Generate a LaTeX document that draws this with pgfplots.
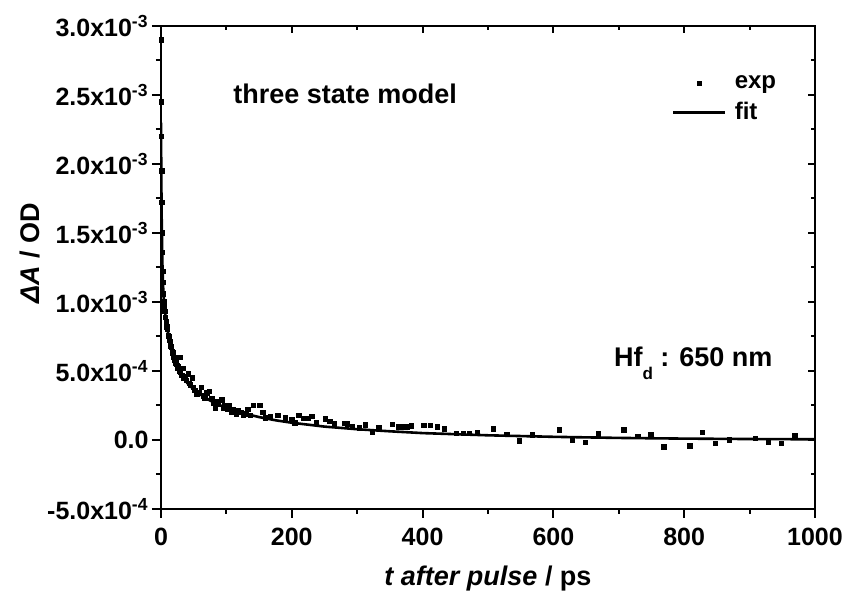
\documentclass[border=0pt]{standalone}
\usepackage{fontspec}
\setmainfont{Liberation Sans}
\usepackage{pgfplots}
\pgfplotsset{compat=1.18}
\pgfplotsset{
  explegend/.style={legend image code/.code={\draw[mark repeat=2,mark phase=2,##1] plot coordinates {(0pt,0pt) (13pt,0pt) (26pt,0pt)};}},
  fitlegend/.style={legend image code/.code={\draw[##1] (0pt,0pt) -- (26pt,0pt);}},
}
\pgfplotstableread{
t y
0.3 2.90e-3
0.6 2.45e-3
0.9 2.20e-3
1.2 1.95e-3
1.6 1.72e-3
2.0 1.50e-3
2.5 1.36e-3
3.0 1.22e-3
3.5 1.14e-3
4.0 1.06e-3
4.5 1.00e-3
5.0 0.97e-3
6.0 0.93e-3
7.0 0.89e-3
8.0 0.86e-3
9.0 0.82e-3
10 0.80e-3
11 0.76e-3
12 0.75e-3
13 0.72e-3
14 0.71e-3
15 0.68e-3
16 0.67e-3
17 0.64e-3
18 0.63e-3
19 0.63e-3
20 0.60e-3
21 0.58e-3
22 0.59e-3
23 0.56e-3
24 0.55e-3
25 0.54e-3
26 0.52e-3
27 0.53e-3
28 0.50e-3
29 0.60e-3
30 0.49e-3
32 0.47e-3
34 0.52e-3
35 0.45e-3
37 0.46e-3
39 0.43e-3
42 0.48e-3
43 0.41e-3
45 0.40e-3
48 0.45e-3
50 0.38e-3
52 0.36e-3
55 0.33e-3
58 0.34e-3
62 0.38e-3
65 0.32e-3
67 0.30e-3
70 0.34e-3
74 0.35e-3
78 0.30e-3
80 0.27e-3
83 0.23e-3
85 0.28e-3
88 0.26e-3
93 0.29e-3
95 0.23e-3
98 0.25e-3
102 0.22e-3
105 0.25e-3
108 0.20e-3
111 0.22e-3
115 0.19e-3
118 0.21e-3
122 0.20e-3
126 0.18e-3
130 0.19e-3
133 0.22e-3
137 0.18e-3
141 0.25e-3
151 0.25e-3
156 0.20e-3
160 0.16e-3
167 0.17e-3
179 0.18e-3
190 0.16e-3
200 0.145e-3
205 0.125e-3
211 0.18e-3
218 0.157e-3
225 0.157e-3
231 0.169e-3
238 0.128e-3
251 0.152e-3
258 0.133e-3
265 0.116e-3
280 0.121e-3
285 0.116e-3
293 0.096e-3
303 0.089e-3
313 0.109e-3
323 0.053e-3
333 0.089e-3
354 0.114e-3
363 0.096e-3
368 0.096e-3
376 0.096e-3
383 0.101e-3
402 0.104e-3
412 0.104e-3
423 0.096e-3
433 0.080e-3
452 0.048e-3
462 0.048e-3
472 0.048e-3
484 0.056e-3
508 0.080e-3
529 0.041e-3
548 -0.007e-3
568 0.036e-3
609 0.072e-3
629 -0.005e-3
649 -0.019e-3
669 0.043e-3
708 0.072e-3
729 0.024e-3
749 0.041e-3
769 -0.049e-3
809 -0.043e-3
828 0.056e-3
848 -0.024e-3
869 0.0
909 0.012e-3
929 -0.019e-3
949 -0.024e-3
969 0.029e-3
}\expdata
\pgfplotstableread{
t y
0 2.30e-3
0.5 1.897e-3
1 1.624e-3
2 1.303e-3
3 1.137e-3
4 1.042e-3
6 0.932e-3
8 0.857e-3
10 0.797e-3
13 0.722e-3
16 0.660e-3
20 0.595e-3
25 0.532e-3
30 0.483e-3
40 0.414e-3
50 0.366e-3
60 0.330e-3
75 0.286e-3
90 0.252e-3
110 0.217e-3
130 0.189e-3
150 0.166e-3
175 0.143e-3
200 0.125e-3
250 0.097e-3
300 0.078e-3
350 0.063e-3
400 0.050e-3
500 0.034e-3
600 0.023e-3
700 0.015e-3
800 0.010e-3
900 0.007e-3
1000 0.005e-3
}\fitdata
\begin{document}
\begin{tikzpicture}
\pgfplotsset{
  common/.style={
    at={(0pt,0pt)}, anchor=south west,
    scale only axis, width=327pt, height=241.5pt,
    xmin=0, xmax=1000, ymin=-0.5e-3, ymax=3.0e-3,
    xtick={0,200,400,600,800,1000}, minor x tick num=1,
    ytick={-0.5e-3,0,0.5e-3,1.0e-3,1.5e-3,2.0e-3,2.5e-3,3.0e-3}, minor y tick num=1,
    scaled y ticks=false, scaled x ticks=false,
    axis line style={line width=1pt},
    every tick/.style={line width=1pt, black},
  }
}
\begin{axis}[common,
  xtick pos=left, ytick pos=left, tick align=outside,
  major tick length=4.5pt, minor tick length=2.5pt,
  xticklabels={0,200,400,600,800,1000},
  yticklabels={-5.0x10\textsuperscript{-4},0.0,5.0x10\textsuperscript{-4},1.0x10\textsuperscript{-3},1.5x10\textsuperscript{-3},2.0x10\textsuperscript{-3},2.5x10\textsuperscript{-3},3.0x10\textsuperscript{-3}},
  tick label style={font=\fontsize{12.5}{15}\selectfont\bfseries},
  yticklabel style={xshift=1.8pt},
  xticklabel style={yshift=-1.5pt},
  every axis x label/.style={at={(axis description cs:0.5,-0.143)}, anchor=center},
  every axis y label/.style={at={(axis description cs:-0.2,0.53)}, rotate=90, anchor=center},
  xlabel={\fontsize{13.5}{16}\selectfont\bfseries\itshape t after pulse\upshape{} / ps},
  ylabel={\fontsize{13.5}{16}\selectfont\bfseries\itshape ΔA\upshape{} / OD},
  legend style={draw=none, fill=none, at={(axis cs:781,2.66e-3)}, anchor=north west,
    font=\fontsize{12}{14}\selectfont\bfseries, row sep=3.5pt, inner sep=0pt,
    nodes={inner sep=1pt},
    /tikz/every odd column/.append style={column sep=3pt}},
  legend cell align=left,
]
\addplot[only marks, mark=square*, mark size=1.1pt, black, explegend]
  table[x=t,y=y] {\expdata};
\addlegendentry{exp}
\addplot[black, line width=1.3pt, no marks, fitlegend]
  table[x=t,y=y] {\fitdata};
\addlegendentry{fit}
\node[anchor=base west, font=\fontsize{13.5}{16}\selectfont\bfseries] at (axis cs:100,2.44e-3) {three state model};
\node[anchor=base west, font=\fontsize{13.5}{16}\selectfont\bfseries] at (axis cs:682,0.53e-3) {Hf\raisebox{-0.45em}{\fontsize{8.5}{9}\selectfont d} : 650 nm};
\end{axis}
\begin{axis}[common,
  xtick pos=right, ytick pos=right, tick align=inside,
  major tick length=3.5pt, minor tick length=2pt,
  xticklabels={}, yticklabels={},
]
\end{axis}
\pgfresetboundingbox
\useasboundingbox (-80.5pt,-42pt) rectangle (341pt,254.5pt);
\end{tikzpicture}
\end{document}
